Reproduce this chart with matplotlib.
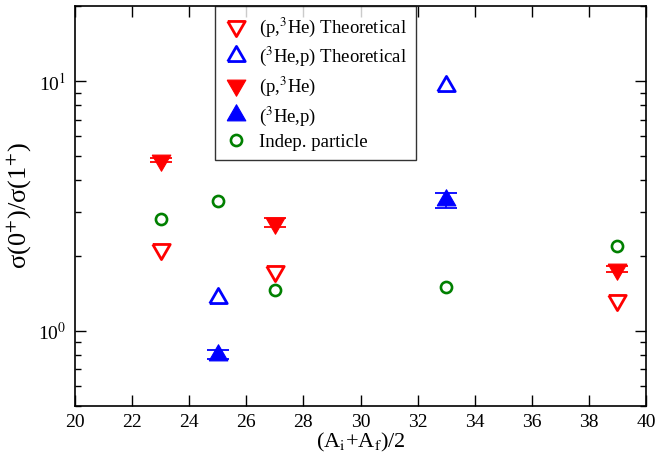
import matplotlib
matplotlib.use("Agg")
import matplotlib.pyplot as plt
from matplotlib.ticker import LogLocator, NullFormatter, FixedLocator

plt.rcParams['font.family'] = ['Liberation Serif', 'DejaVu Serif']
plt.rcParams['mathtext.fontset'] = 'stix'

# Data
x_p3he = [23, 27, 39]
p3he_theo = [2.12, 1.74, 1.33]
p3he_exp = [4.83, 2.71, 1.77]
p3he_err = [0.08, 0.12, 0.045]

x_3hep = [25, 33]
he3p_theo = [1.35, 9.59]
he3p_exp = [0.80, 3.33]
he3p_err = [0.033, 0.23]

x_indep = [23, 25, 27, 33, 39]
indep = [2.79, 3.30, 1.45, 1.50, 2.19]

xticks = [20, 22, 24, 26, 28, 30, 32, 34, 36, 38, 40]

# centroid-centred triangles (as drawn by Grace)
s3 = 3 ** 0.5
TRI_DOWN = [(-1, s3 / 3), (1, s3 / 3), (0, -2 * s3 / 3), (-1, s3 / 3)]
TRI_UP = [(-1, -s3 / 3), (1, -s3 / 3), (0, 2 * s3 / 3), (-1, -s3 / 3)]

fig = plt.figure(figsize=(6.55, 4.57), dpi=100)
ax = fig.add_axes([0.1145, 0.1122, 0.8718, 0.8747])
ax.set_yscale('log')

ms_open = 14.5
ms_fill = 15.5
ax.plot(x_p3he, p3he_theo, linestyle='none', marker=TRI_DOWN, ms=ms_open, mfc='white',
        mec='red', mew=2.0, label='(p,$^{3}$He) Theoretical', zorder=3)
ax.plot(x_3hep, he3p_theo, linestyle='none', marker=TRI_UP, ms=ms_open, mfc='white',
        mec='blue', mew=2.0, label='($^{3}$He,p) Theoretical', zorder=3)
ax.errorbar(x_p3he, p3he_exp, yerr=p3he_err, fmt='none', ecolor='red', capsize=8,
            elinewidth=1.2, capthick=1.3, zorder=3)
ax.plot(x_p3he, p3he_exp, linestyle='none', marker=TRI_DOWN, ms=ms_fill, mfc='red',
        mec='red', mew=0.8, label='(p,$^{3}$He)', zorder=3)
ax.errorbar(x_3hep, he3p_exp, yerr=he3p_err, fmt='none', ecolor='blue', capsize=8,
            elinewidth=1.2, capthick=1.3, zorder=3)
ax.plot(x_3hep, he3p_exp, linestyle='none', marker=TRI_UP, ms=ms_fill, mfc='blue',
        mec='blue', mew=0.8, label='($^{3}$He,p)', zorder=3)
ax.plot(x_indep, indep, linestyle='none', marker='o', ms=8.0, mfc='none',
        mec='green', mew=1.9, label='Indep. particle', zorder=3)

ax.set_xlim(20, 40)
ax.set_ylim(0.5, 20)
ax.set_xticks(xticks)
ax.set_xticklabels([str(t) for t in xticks])
ax.yaxis.set_major_locator(FixedLocator([1, 10]))
ax.set_yticklabels(['10$^{0}$', '10$^{1}$'])
ax.yaxis.set_minor_locator(LogLocator(base=10, subs=[2, 3, 4, 5, 6, 7, 8, 9]))
ax.yaxis.set_minor_formatter(NullFormatter())

ax.tick_params(which='major', direction='in', length=8, width=1, labelsize=14,
               top=True, right=True, pad=6)
ax.tick_params(which='minor', direction='in', length=4, width=1, top=True, right=True)
for s in ax.spines.values():
    s.set_linewidth(1.2)

ax.set_xlabel('(A$_{\\mathrm{i}}$+A$_{\\mathrm{f}}$)/2', fontsize=16, labelpad=0)
ax.set_ylabel('σ(0$^{+}$)/σ(1$^{+}$)', fontsize=19, labelpad=4)

leg = ax.legend(loc='upper left', bbox_to_anchor=(0.245, 1.0), frameon=True,
                fancybox=False, edgecolor='black', fontsize=13.5, borderaxespad=0,
                handletextpad=0.55, labelspacing=0.33, borderpad=0.5,
                handlelength=1.3)
leg.get_frame().set_linewidth(1.0)

fig.savefig('out.png', dpi=100)
